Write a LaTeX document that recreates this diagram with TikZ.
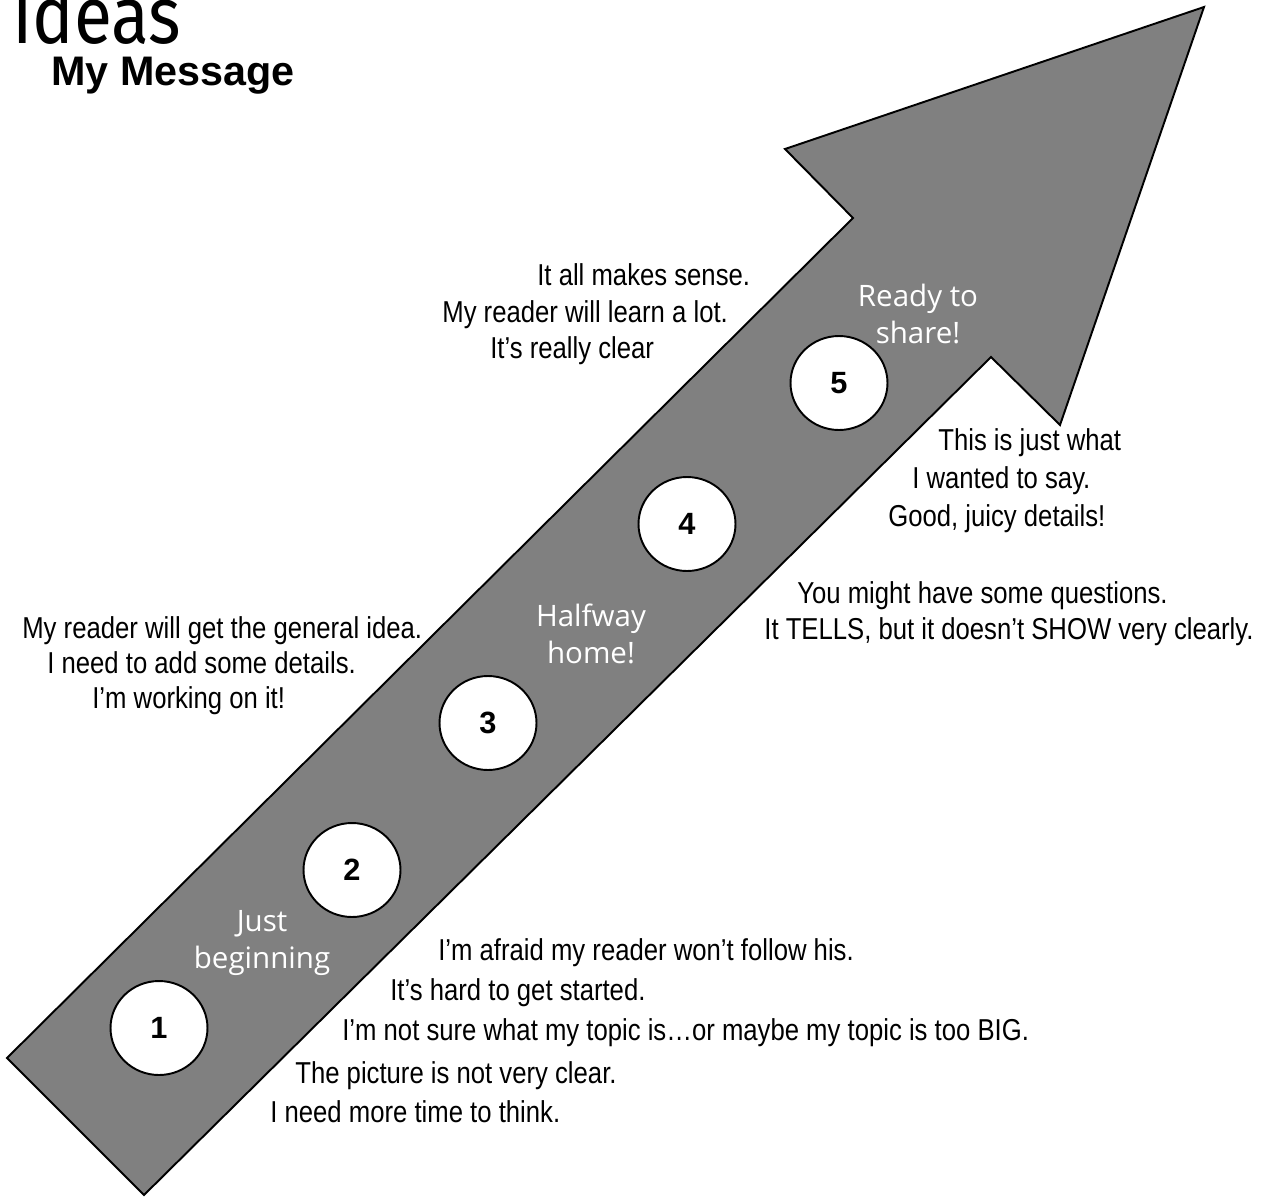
\documentclass[tikz,border=0pt]{standalone}
\usepackage{fontspec}
\setmainfont{Liberation Sans}
\newfontfamily\narrowfont{Liberation Sans}[FakeStretch=0.85]
\newfontfamily\stagefont{Open Sans}
\newfontfamily\titlefont{Fira Sans}
\usetikzlibrary{shapes.geometric}
\def\remarksize{\narrowfont\fontsize{17.2}{20}\selectfont}

\begin{document}
\begin{tikzpicture}[x=0.02cm, y=-0.02cm,
    arrowbody/.style={fill=black!50, draw=black, line width=1.1pt},
    stepdot/.style={ellipse, draw=black, fill=white, line width=1.1pt,
        minimum width=1.94cm, minimum height=1.88cm, inner sep=0pt,
        font=\bfseries\fontsize{17.5}{20}\selectfont},
    stage/.style={align=center, text=white, inner sep=0pt, anchor=base,
        font=\stagefont\fontsize{16.8}{20.5}\selectfont},
    remark/.style={anchor=base west, inner sep=0pt, font=\remarksize}]
    %%%%% START %%%%%
    
    \useasboundingbox (0, 0) rectangle (1278, 1197);
    \clip (0, 0) rectangle (1278, 1197);
    
    % title
    \node[anchor=base west, inner sep=0pt] (ideas) at (12, 43)
        {\scalebox{0.86}[1]{\titlefont\fontsize{46}{50}\selectfont Ideas}};
    \node[anchor=base west, inner sep=0pt, font=\bfseries\fontsize{23.5}{26}\selectfont]
        (message) at (51, 85) {My Message};
    
    % the big arrow
    \draw[arrowbody] (7, 1058) -- (853, 218) -- (785, 149) -- (1204, 7)
        -- (1060, 425) -- (991, 357) -- (144, 1195) -- cycle;
    
    % steps
    \node[stepdot] (one) at (159, 1028) {1};
    \node[stepdot] (two) at (352, 870) {2};
    \node[stepdot] (three) at (488, 723) {3};
    \node[stepdot] (four) at (687, 524) {4};
    \node[stepdot] (five) at (839, 383) {5};
    
    % base is the last line here
    \node[stage] (begin) at (262, 968) {Just\\beginning};
    \node[stage] (halfway) at (591, 663) {Halfway\\home!};
    \node[stage] (ready) at (918, 343) {Ready to\\share!};
    
    % remarks, top
    \node[remark] (sense) at (537, 285) {It all makes sense.};
    \node[remark] (learn) at (442, 322) {My reader will learn a lot.};
    \node[remark] (clear) at (490, 358) {It’s really clear};
    
    % remarks, left
    \node[remark] (general) at (22, 638) {My reader will get the general idea.};
    \node[remark] (details) at (47, 673) {I need to add some details.};
    \node[remark] (working) at (92, 708) {I’m working on it!};
    
    % remarks, right
    \node[remark] (justwhat) at (938, 450) {This is just what};
    \node[remark] (say) at (912, 488) {I wanted to say.};
    \node[remark] (juicy) at (888, 526) {Good, juicy details!};
    \node[remark] (questions) at (797, 603) {You might have some questions.};
    \node[remark] (tells) at (764, 639) {It TELLS, but it doesn’t SHOW very clearly.};
    
    % remarks, bottom
    \node[remark] (afraid) at (438, 960) {I’m afraid my reader won’t follow his.};
    \node[remark] (started) at (390, 1000) {It’s hard to get started.};
    \node[remark] (topic) at (342, 1040) {I’m not sure what my topic is…or maybe my topic is too BIG.};
    \node[remark] (picture) at (295, 1083) {The picture is not very clear.};
    \node[remark] (think) at (270, 1122) {I need more time to think.};
    
    %%%%% END %%%%%
\end{tikzpicture}
\end{document}
